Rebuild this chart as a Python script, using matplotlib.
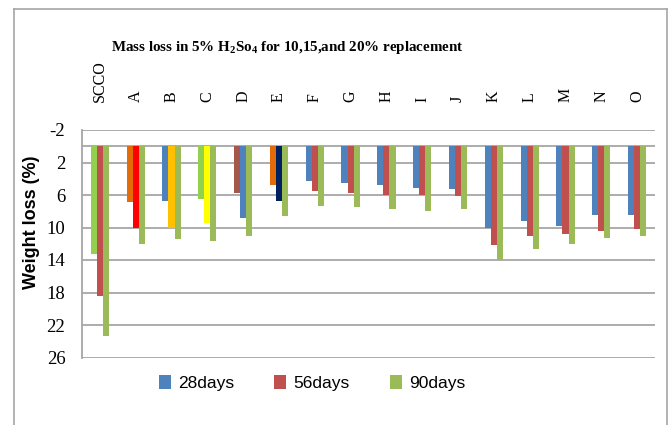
import matplotlib
matplotlib.use("Agg")
import matplotlib.pyplot as plt
import numpy as np
from matplotlib.patches import Patch
from matplotlib.lines import Line2D

categories = ["SCCO", "A", "B", "C", "D", "E", "F", "G", "H", "I", "J", "K", "L", "M", "N", "O"]
d28 = [13.3, 6.9, 6.7, 6.5, 5.7, 4.75, 4.3, 4.5, 4.75, 5.1, 5.3, 10.1, 9.2, 9.8, 8.5, 8.5]
d56 = [18.4, 10.0, 10.0, 9.4, 8.8, 6.7, 5.5, 5.7, 6.0, 6.0, 6.1, 12.1, 11.1, 10.8, 10.4, 10.2]
d90 = [23.4, 12.0, 11.4, 11.6, 11.0, 8.6, 7.3, 7.5, 7.7, 8.0, 7.7, 14.0, 12.7, 12.0, 11.3, 11.1]
series_names = ["28days", "56days", "90days"]
yticks = [-2, 2, 6, 10, 14, 18, 22, 26]

BLUE, RED, GREEN = "#4F81BD", "#C0504D", "#9BBB59"
c28 = [BLUE] * len(categories)
c56 = [RED] * len(categories)
c90 = [GREEN] * len(categories)
c28[0] = "#92D050"
c28[1], c56[1] = "#E36C09", "#FF0000"
c56[2] = "#FFC000"
c28[3], c56[3] = "#92D050", "#FFFF00"
c28[4], c56[4] = "#A5574B", BLUE
c28[5], c56[5] = "#E36C09", "#002060"

plt.rcParams["mathtext.fontset"] = "custom"
plt.rcParams["mathtext.rm"] = "Liberation Serif:bold"
plt.rcParams["mathtext.bf"] = "Liberation Serif:bold"
plt.rcParams["mathtext.it"] = "Liberation Serif:bold"

fig = plt.figure(figsize=(6.69, 4.25), dpi=100)
ax = fig.add_axes([82 / 669, 67.5 / 425, 573 / 669, 227.5 / 425])

x = np.arange(len(categories))
w = 0.17
ax.bar(x - w, d28, w, color=c28, zorder=3)
ax.bar(x, d56, w, color=c56, zorder=3)
ax.bar(x + w, d90, w, color=c90, zorder=3)

ax.set_ylim(26, -2)
ax.set_xlim(-0.5, len(categories) - 0.5)
ax.set_yticks(yticks)
ax.set_yticklabels([str(t) for t in yticks], fontfamily="Liberation Serif", fontsize=13.5)
ax.tick_params(axis="y", length=0, pad=12)
ax.grid(axis="y", color="#A6A6A6", linewidth=1.3, zorder=0)
ax.axhline(0, color="#A6A6A6", linewidth=1.3, zorder=1)
ax.set_axisbelow(True)

ax.xaxis.tick_top()
ax.set_xticks(x)
ax.set_xticklabels(categories, rotation=90, fontfamily="Liberation Serif", fontsize=11.5)
ax.tick_params(axis="x", length=0, pad=20)

for s in ["top", "right", "bottom"]:
    ax.spines[s].set_visible(False)
ax.spines["left"].set_color("#A6A6A6")
ax.spines["left"].set_linewidth(1.3)

fig.text(287 / 669, 1 - 48 / 425,
         r"Mass loss in 5% H$_\mathrm{2}$So$_\mathrm{4}$ for 10,15,and 20% replacement",
         ha="center", va="center", fontfamily="Liberation Serif", fontweight="bold", fontsize=10.8)

fig.text(32 / 669, 1 - 222 / 425, "Weight loss (%)", rotation=90, ha="center", va="center",
         fontfamily="Liberation Sans", fontweight="bold", fontsize=13)

handles = [Patch(facecolor=c) for c in (BLUE, RED, GREEN)]
fig.legend(handles, series_names, loc="center", bbox_to_anchor=(312 / 669, 1 - 383 / 425),
           ncol=3, frameon=False, prop={"family": "Liberation Sans", "size": 12.5},
           handlelength=0.7, handleheight=0.9, handletextpad=0.4, columnspacing=2.3)

# outer frame
fig.add_artist(Line2D([14 / 669, 14 / 669], [0, 1 - 9 / 425], color="#A6A6A6", linewidth=1.2, transform=fig.transFigure))
fig.add_artist(Line2D([14 / 669, 667 / 669], [1 - 9 / 425, 1 - 9 / 425], color="#A6A6A6", linewidth=1.2, transform=fig.transFigure))
fig.add_artist(Line2D([667 / 669, 667 / 669], [0, 1 - 9 / 425], color="#A6A6A6", linewidth=1.2, transform=fig.transFigure))

fig.savefig("out.png", dpi=100)
